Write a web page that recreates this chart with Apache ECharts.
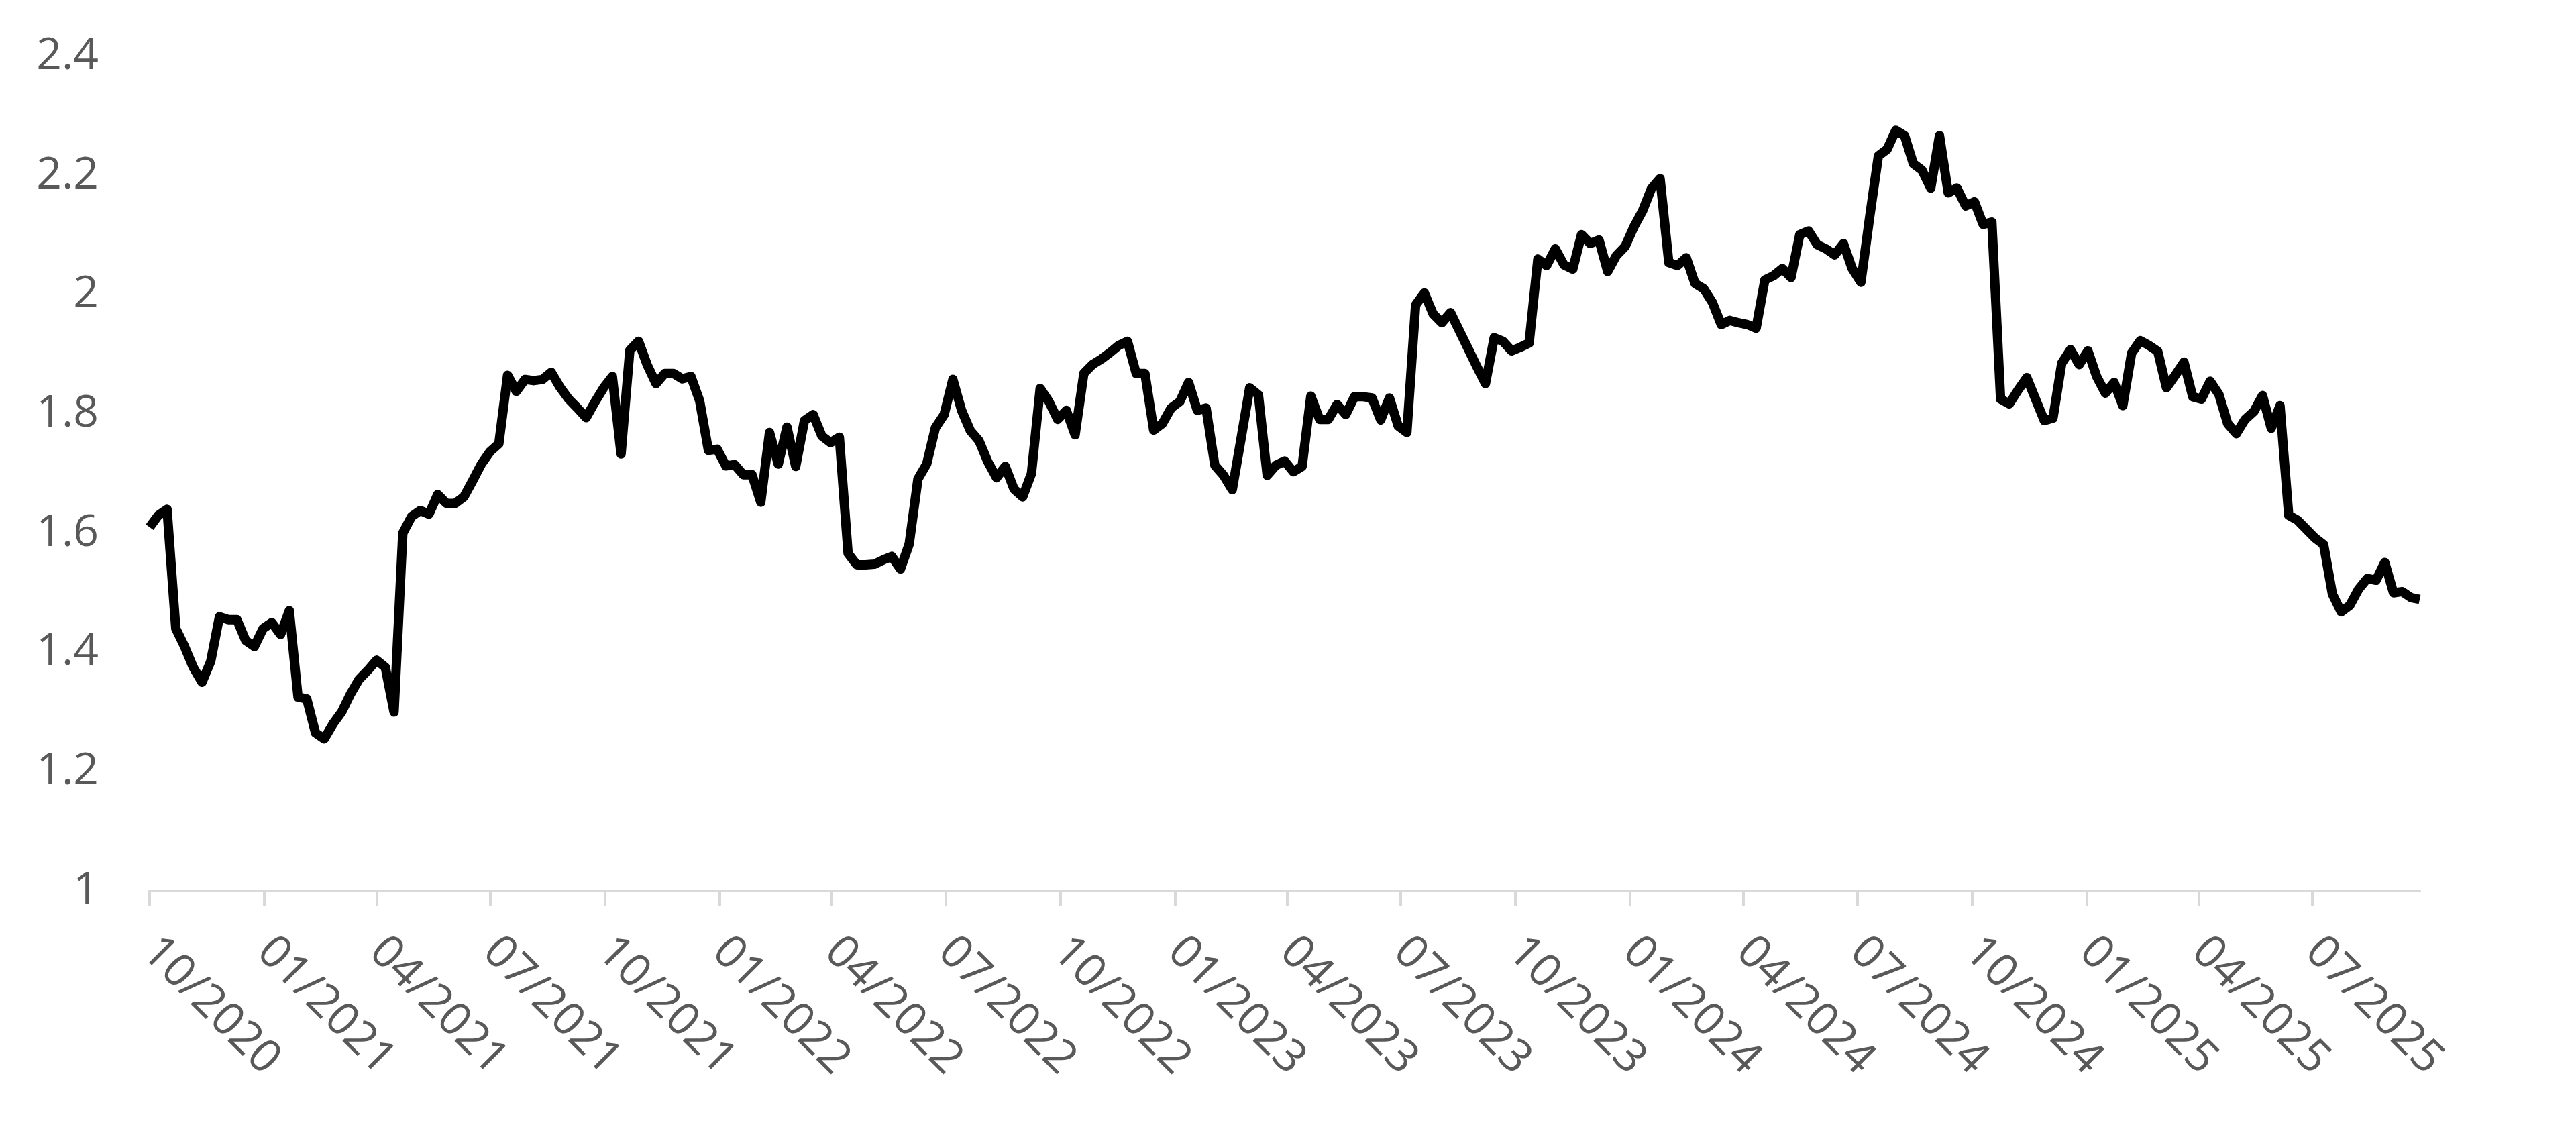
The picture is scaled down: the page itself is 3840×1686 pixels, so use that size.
<!DOCTYPE html>
<html>
<head>
<meta charset="utf-8">
<script src="https://cdn.jsdelivr.net/npm/echarts@6/dist/echarts.min.js"></script>
<style>
html,body{margin:0;padding:0;background:#ffffff;}
#chart{width:3840px;height:1686px;}
</style>
</head>
<body>
<div id="chart"></div>
<script>
// Weekly observations, first one on 1 Oct 2020
const startYear = 2020, startMonth = 10, startDay = 1;

// Tick labels (quarter starts)
const quarterLabels = ['10/2020','01/2021','04/2021','07/2021','10/2021','01/2022','04/2022','07/2022',
  '10/2022','01/2023','04/2023','07/2023','10/2023','01/2024','04/2024','07/2024','10/2024',
  '01/2025','04/2025','07/2025'];

// Series values by calendar year (weekly)
const v2020 = [1.61,1.63,1.64,1.44,1.41,1.375,1.35,1.385,1.46,1.455,1.455,1.42,1.41,1.44];
const v2021 = [1.45,1.43,1.47,1.325,1.322,1.265,1.255,1.28,1.30,1.33,1.355,1.37,1.387,1.375,
  1.30,1.60,1.628,1.638,1.632,1.665,1.65,1.65,1.661,1.688,1.716,1.737,1.75,1.865,1.838,1.858,
  1.856,1.858,1.87,1.845,1.825,1.81,1.794,1.82,1.844,1.863,1.733,1.907,1.922,1.882,1.851,1.868,
  1.868,1.859,1.863,1.822,1.739,1.741];
const v2022 = [1.713,1.715,1.698,1.698,1.652,1.769,1.716,1.778,1.712,1.789,1.799,1.763,1.752,
  1.761,1.566,1.547,1.547,1.548,1.555,1.561,1.54,1.582,1.691,1.716,1.777,1.799,1.858,1.806,
  1.772,1.755,1.72,1.693,1.712,1.674,1.661,1.70,1.843,1.821,1.791,1.806,1.765,1.868,1.883,
  1.892,1.903,1.915,1.922,1.868,1.868,1.773,1.784,1.81];
const v2023 = [1.821,1.853,1.806,1.81,1.714,1.697,1.673,1.758,1.844,1.832,1.697,1.714,1.721,
  1.703,1.712,1.83,1.791,1.791,1.816,1.799,1.829,1.829,1.827,1.79,1.827,1.78,1.769,1.983,2.003,
  1.968,1.953,1.97,1.94,1.91,1.88,1.851,1.928,1.922,1.906,1.912,1.919,2.06,2.049,2.077,2.05,
  2.043,2.101,2.086,2.092,2.039,2.066,2.081];
const v2024 = [2.114,2.141,2.178,2.195,2.054,2.049,2.062,2.019,2.01,1.987,1.95,1.957,1.953,
  1.95,1.944,2.025,2.032,2.044,2.029,2.101,2.107,2.084,2.077,2.067,2.086,2.044,2.021,2.13,
  2.233,2.244,2.276,2.267,2.22,2.209,2.179,2.267,2.171,2.179,2.149,2.156,2.118,2.122,1.825,
  1.817,1.84,1.861,1.825,1.789,1.793,1.885,1.908,1.883];
const v2025 = [1.906,1.863,1.835,1.853,1.814,1.902,1.923,1.915,1.905,1.844,1.865,1.887,1.829,
  1.825,1.855,1.833,1.784,1.767,1.791,1.804,1.831,1.776,1.814,1.63,1.622,1.607,1.592,1.581,
  1.498,1.468,1.479,1.506,1.524,1.521,1.551,1.50,1.502,1.492,1.489];

const values = [].concat(v2020, v2021, v2022, v2023, v2024, v2025);
const dates = values.map(function (_, i) {
  return new Date(startYear, startMonth - 1, startDay + 7 * i).getTime();
});
const seriesData = values.map(function (v, i) { return [dates[i], v]; });

const tickValues = quarterLabels.map(function (s) {
  const p = s.split('/');
  return new Date(parseInt(p[1], 10), parseInt(p[0], 10) - 1, 1).getTime();
});
function labelFor(v) {
  for (let k = 0; k < tickValues.length; k++) {
    if (Math.abs(tickValues[k] - v) < 43200000) return quarterLabels[k];
  }
  return '';
}

const chart = echarts.init(document.getElementById('chart'), null, {renderer: 'canvas'});
chart.setOption({
  animation: false,
  backgroundColor: '#ffffff',
  grid: {left: 223, right: 233, top: 84, bottom: 358, containLabel: false, outerBoundsMode: 'none'},
  xAxis: {
    type: 'value',
    min: dates[0],
    max: dates[dates.length - 1],
    axisLine: {show: true, onZero: false, lineStyle: {color: '#d9d9d9', width: 4}},
    axisTick: {show: true, customValues: tickValues, length: 22, lineStyle: {color: '#d9d9d9', width: 4}},
    axisLabel: {
      customValues: tickValues,
      rotate: -45,
      margin: 80,
      fontSize: 68,
      fontFamily: 'Open Sans',
      color: '#595959',
      formatter: function (v) { return labelFor(v); }
    },
    splitLine: {show: false}
  },
  yAxis: {
    type: 'value',
    min: 1,
    max: 2.4,
    interval: 0.2,
    axisLine: {show: false},
    axisTick: {show: false},
    splitLine: {show: false},
    axisLabel: {
      margin: 76,
      fontSize: 66,
      fontFamily: 'Open Sans',
      color: '#595959',
      formatter: function (v) { return String(Math.round(v * 10) / 10); }
    }
  },
  series: [{
    type: 'line',
    data: seriesData,
    showSymbol: false,
    symbol: 'none',
    lineStyle: {color: '#000000', width: 14, join: 'round', cap: 'butt'},
    z: 3
  }]
});
</script>
</body>
</html>
